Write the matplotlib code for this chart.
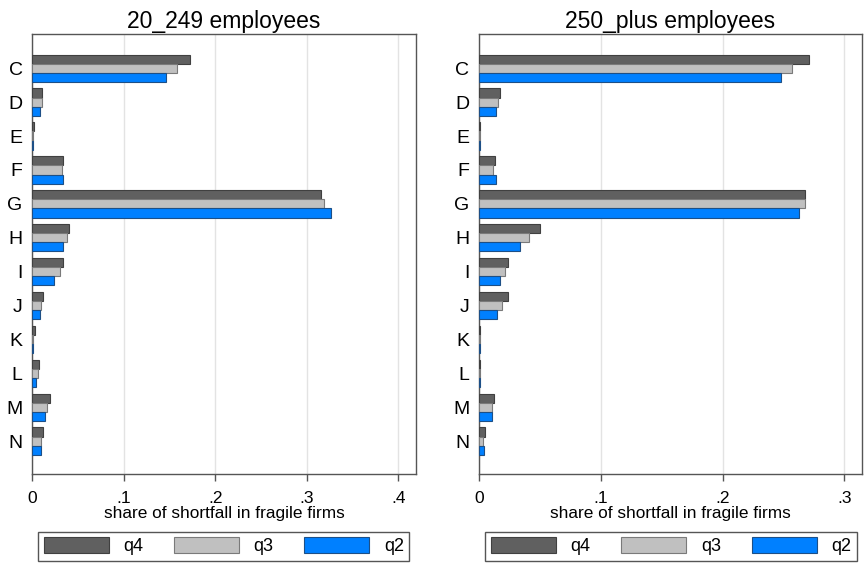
import matplotlib
matplotlib.use("Agg")
import matplotlib.pyplot as plt
import numpy as np
from matplotlib.patches import Patch

plt.rcParams['font.family'] = ['Liberation Sans', 'DejaVu Sans']

sectors = ["C", "D", "E", "F", "G", "H", "I", "J", "K", "L", "M", "N"]
series = ["q4", "q3", "q2"]
colors = ["#606060", "#c0c0c0", "#0080ff"]
edges = ["#404040", "#7a7a7a", "#1d4f86"]

# 20_249 employees
small_q4 = [0.172, 0.011, 0.002, 0.034, 0.315, 0.040, 0.034, 0.012, 0.0026, 0.0073, 0.019, 0.0117]
small_q3 = [0.158, 0.011, 0.0005, 0.032, 0.319, 0.038, 0.030, 0.0095, 0.001, 0.0059, 0.016, 0.0095]
small_q2 = [0.146, 0.008, 0.001, 0.034, 0.326, 0.034, 0.024, 0.0084, 0.001, 0.0044, 0.0135, 0.0092]

# 250_plus employees
large_q4 = [0.271, 0.0175, 0.001, 0.0134, 0.268, 0.050, 0.0236, 0.024, 0.0005, 0.0005, 0.012, 0.0047]
large_q3 = [0.257, 0.016, 0.0005, 0.0118, 0.268, 0.041, 0.021, 0.019, 0.0005, 0.0005, 0.0104, 0.0036]
large_q2 = [0.248, 0.014, 0.0005, 0.014, 0.263, 0.034, 0.017, 0.015, 0.0005, 0.0005, 0.011, 0.004]

panels = [
    ("20_249 employees", [small_q4, small_q3, small_q2], [0, 0.1, 0.2, 0.3, 0.4], 0.419),
    ("250_plus employees", [large_q4, large_q3, large_q2], [0, 0.1, 0.2, 0.3], 0.3145),
]
tick_text = {0: "0", 0.1: ".1", 0.2: ".2", 0.3: ".3", 0.4: ".4"}

fig = plt.figure(figsize=(8.64, 5.67), dpi=100)
ax_rects = [[0.0374, 0.164, 0.4437, 0.776], [0.5544, 0.164, 0.4433, 0.776]]
leg_boxes = [(38.3 / 864, 5.3 / 567, 371 / 864, 30.7 / 567),
             (485.3 / 864, 5.3 / 567, 371.7 / 864, 30.7 / 567)]

y = np.arange(len(sectors))
h = 0.27
offsets = [-h, 0, h]

for (title, vals, ticks, xmax), rect, lb in zip(panels, ax_rects, leg_boxes):
    ax = fig.add_axes(rect)
    for v, off, c, ec in zip(vals, offsets, colors, edges):
        ax.barh(y + off, v, height=h, color=c, edgecolor=ec, linewidth=0.8, zorder=3)
    ax.set_xlim(0, xmax)
    ax.set_ylim(11.97, -1.01)
    ax.set_yticks(y)
    ax.set_yticklabels(sectors, fontsize=14)
    ax.tick_params(axis="y", length=0, pad=7)
    ax.set_xticks(ticks)
    ax.set_xticklabels([tick_text[t] for t in ticks], fontsize=12.5)
    ax.tick_params(axis="x", length=5, width=1, color="#555555", pad=7)
    ax.grid(axis="x", color="#e3e3e3", linewidth=1, zorder=0)
    for s in ax.spines.values():
        s.set_color("#555555")
        s.set_linewidth(1)
    ax.set_title(title, fontsize=16.5, pad=4)
    ax.set_xlabel("share of shortfall in fragile firms", fontsize=12.4, labelpad=0)

    handles = [Patch(facecolor=c, edgecolor=ec, linewidth=0.8) for c, ec in zip(colors, edges)]
    fig.legend(handles, series, loc="center", bbox_to_anchor=lb, mode="expand",
               ncol=3, fontsize=13, handlelength=3.6, handleheight=0.95,
               fancybox=False, edgecolor="#555555", framealpha=1,
               borderaxespad=0, borderpad=0.3, handletextpad=0.8)

fig.savefig("out.png", dpi=100)
